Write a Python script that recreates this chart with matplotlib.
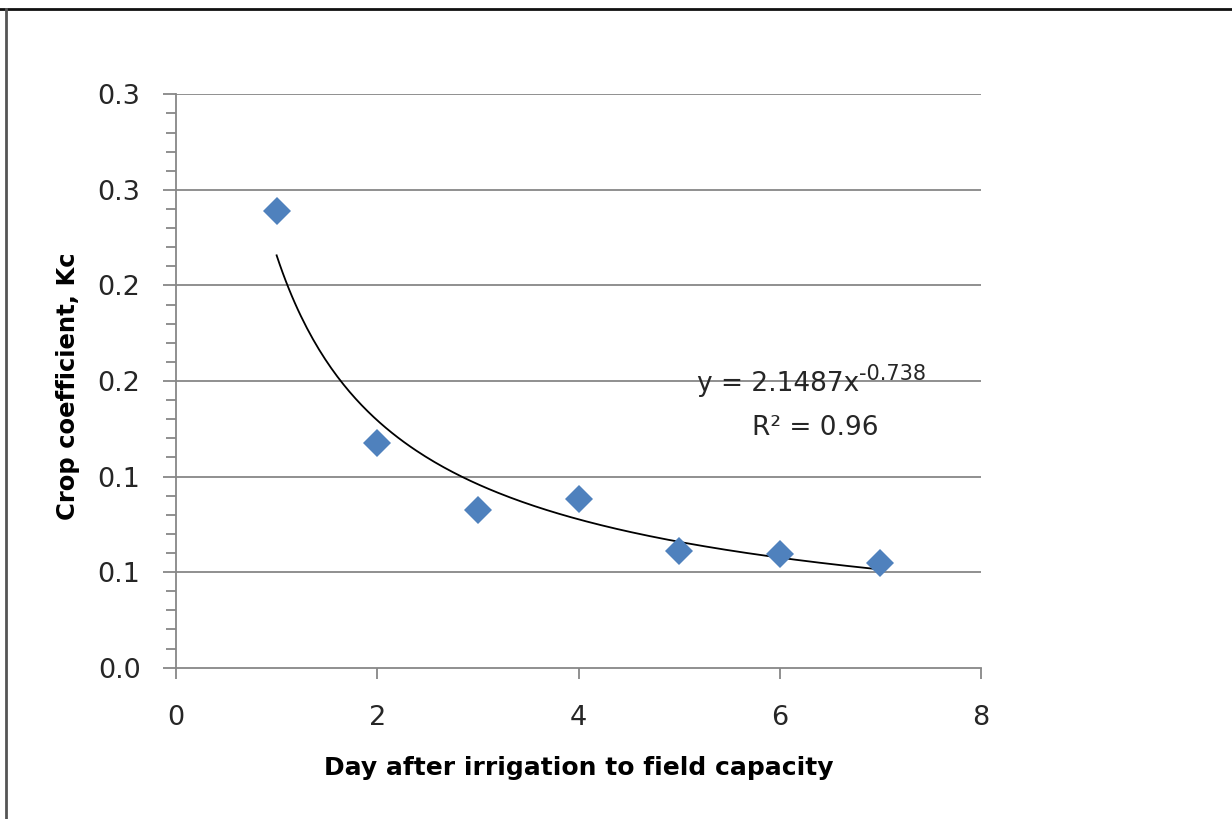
import numpy as np
import matplotlib
matplotlib.use("Agg")
import matplotlib.pyplot as plt
from matplotlib.lines import Line2D

plt.rcParams['font.family'] = ['DejaVu Sans']

# Donnees
jours = [1, 2, 3, 4, 5, 6, 7]
kc = [0.239, 0.1174, 0.0825, 0.0881, 0.0612, 0.0595, 0.0546]

y_ticks = [0.0, 0.05, 0.10, 0.15, 0.20, 0.25, 0.30]
y_tick_labels = ['0.0', '0.1', '0.1', '0.2', '0.2', '0.3', '0.3']
x_ticks = [0, 2, 4, 6, 8]
x_tick_labels = ['0', '2', '4', '6', '8']

equation = 'y = 2.1487x'
exposant = '-0.738'
r_carre = 'R² = 0.96'

gris = '#878787'
texte = '#262626'

fig = plt.figure(figsize=(12.32, 8.19), dpi=100)
ax = fig.add_axes([176/1232, 1 - 667.7/819, (981 - 176)/1232, (667.7 - 94.3)/819])

# Courbe de tendance (puissance), ajustee en log-log comme Excel
pente, ordonnee = np.polyfit(np.log(jours), np.log(kc), 1)
x_fit = np.linspace(min(jours), max(jours), 200)
y_fit = np.exp(ordonnee) * x_fit ** pente

ax.plot(x_fit, y_fit, color='black', lw=1.3, zorder=3)
ax.plot(jours, kc, linestyle='none', marker='D', ms=14.5,
        color='#4F81BD', markeredgewidth=0, zorder=4)

ax.set_xlim(0, 8)
ax.set_ylim(0, 0.3)
ax.set_yticks(y_ticks)
ax.set_yticklabels(y_tick_labels)
ax.set_yticks(np.linspace(0, 0.3, 31), minor=True)
ax.set_xticks(x_ticks)
ax.set_xticklabels(x_tick_labels)

for y in y_ticks[1:]:
    ax.axhline(y, color=gris, lw=1.3, zorder=1)

for s in ['top', 'right']:
    ax.spines[s].set_visible(False)
for s in ['left', 'bottom']:
    ax.spines[s].set_color(gris)
    ax.spines[s].set_linewidth(1.3)

ax.tick_params(axis='y', which='major', direction='out', length=9.5, width=1.3,
               color=gris, labelsize=19.5, pad=16, labelcolor=texte)
ax.tick_params(axis='y', which='minor', direction='out', length=7, width=1.3, color=gris)
ax.tick_params(axis='x', which='major', direction='out', length=8, width=1.3,
               color=gris, labelsize=19.5, pad=19, labelcolor=texte)

ax.set_xlabel('Day after irrigation to field capacity', fontsize=18,
              fontweight='bold', labelpad=18)
ax.set_ylabel('Crop coefficient, Kc', fontsize=17.5, fontweight='bold', labelpad=13)
ax.yaxis.label.set_y(0.49)

t_eq = ax.text(5.18, 0.1485, equation, fontsize=19, ha='left', va='center', color=texte)
ax.annotate(exposant, xy=(1.0, 0.5), xycoords=t_eq, fontsize=15,
            ha='left', va='bottom', color=texte)
ax.text(5.726, 0.1256, r_carre, fontsize=19, ha='left', va='center', color=texte)

# Cadre de la figure (haut et gauche)
fig.add_artist(Line2D([0, 1], [1 - 8.5/819, 1 - 8.5/819], color='#111111', lw=2,
                      transform=fig.transFigure))
fig.add_artist(Line2D([6/1232, 6/1232], [0, 1 - 8.5/819], color='#555555', lw=2,
                      transform=fig.transFigure))

fig.savefig('out.png', dpi=100)
